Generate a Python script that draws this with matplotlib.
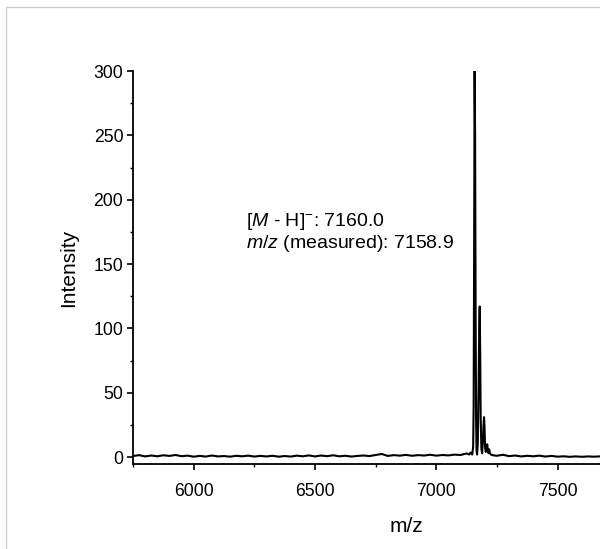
import matplotlib
matplotlib.use('Agg')
import matplotlib.pyplot as plt
from matplotlib.ticker import MultipleLocator, FixedLocator
from matplotlib.patches import Rectangle

plt.rcParams['font.family'] = ['Liberation Sans', 'DejaVu Sans']
plt.rcParams['mathtext.fontset'] = 'custom'
plt.rcParams['mathtext.rm'] = 'Liberation Sans'
plt.rcParams['mathtext.it'] = 'Liberation Sans:italic'

# spectrum trace (m/z, intensity)
mz_low = [5750, 5775, 5800, 5825, 5850, 5875, 5900, 5925, 5950, 5975,
          6000, 6025, 6050, 6075, 6100, 6125, 6150, 6175, 6200, 6225,
          6250, 6275, 6300, 6325, 6350, 6375, 6400, 6425, 6450, 6475,
          6500, 6525, 6550, 6575, 6600, 6625, 6650, 6675, 6700, 6725,
          6750, 6775, 6800, 6825, 6850, 6875, 6900, 6925, 6950, 6975,
          7000, 7025, 7050, 7075, 7100, 7125]
int_low = [0.8, 1.5, 0.5, 1.2, 0.6, 1.4, 0.9, 1.6, 0.7, 1.1,
           0.3, 0.9, 0.4, 1.2, 0.5, 0.8, 0.3, 1.0, 0.6, 1.1,
           0.4, 0.9, 0.5, 1.0, 0.3, 0.8, 0.4, 1.1, 0.6, 1.3,
           0.5, 1.2, 0.7, 1.4, 0.6, 1.0, 0.4, 0.9, 1.2, 0.8,
           1.6, 2.4, 0.9, 1.5, 1.1, 1.7, 1.0, 1.5, 1.2, 1.8,
           1.1, 1.6, 1.3, 1.9, 1.6, 2.8]

mz_peak = [7135, 7142, 7148, 7152, 7154, 7156, 7158, 7160, 7162, 7164,
           7166, 7168, 7171, 7174, 7177, 7179, 7181, 7183, 7186, 7189,
           7192, 7195, 7197, 7199, 7201, 7204, 7207, 7210, 7212, 7215,
           7218, 7221, 7225, 7232, 7240]
int_peak = [2.0, 3.5, 2.0, 8, 40, 160, 300, 250, 120, 30,
            5, 2, 10, 50, 100, 117, 80, 30, 6, 3,
            12, 26, 31, 22, 8, 4, 8, 10, 6, 3,
            6, 3, 2, 1.5, 1.2]

mz_high = [7250, 7275, 7300, 7325, 7350, 7375, 7400, 7425, 7450, 7475,
           7500, 7525, 7550, 7575, 7600, 7625, 7650, 7675, 7700, 7725,
           7750, 7775, 7800, 7825, 7850, 7875, 7900, 7925, 7950, 7975, 8000]
int_high = [1.0, 1.8, 0.7, 1.2, 0.5, 1.0, 0.6, 1.1, 0.4, 0.9,
            0.3, 0.6, 0.2, 0.5, 0.2, 0.5, 0.3, 0.5, 0.3, 0.4,
            0.2, 0.4, 0.2, 0.4, 0.2, 0.3, 0.2, 0.3, 0.2, 0.3, 0.2]

x_ticks = [6000, 6500, 7000, 7500]

mz = mz_low + mz_peak + mz_high
intensity = int_low + int_peak + int_high

fig = plt.figure(figsize=(6.0, 5.49), dpi=100)
# light grey frame of the original figure (cropped at right/bottom)
fig.patches.append(Rectangle((6 / 600, -0.1), 1.2, 1 - 7 / 549 + 0.1,
                             transform=fig.transFigure, fill=False,
                             edgecolor='#cccccc', linewidth=1.0))

ax = fig.add_axes([0.2217, 0.1548, 0.9098, 0.7158])
ax.plot(mz, intensity, color='black', linewidth=1.5)

ax.set_xlim(5750, 8000)
ax.set_ylim(-5.4, 300)
ax.spines['top'].set_visible(False)
ax.spines['right'].set_visible(False)
ax.spines['left'].set_linewidth(1.3)
ax.spines['bottom'].set_linewidth(1.3)

ax.xaxis.set_major_locator(FixedLocator(x_ticks))
ax.xaxis.set_minor_locator(MultipleLocator(250))
ax.yaxis.set_major_locator(MultipleLocator(50))
ax.yaxis.set_minor_locator(MultipleLocator(25))
ax.tick_params(which='major', direction='out', length=4, width=1.2, labelsize=12.7)
ax.tick_params(which='minor', direction='out', length=2.5, width=1.0)
ax.tick_params(axis='x', which='major', pad=10)
ax.tick_params(axis='y', which='major', pad=3)

ax.set_xlabel('m/z', fontsize=15, labelpad=12)
ax.set_ylabel('Intensity', fontsize=15, labelpad=11)

ax.text(6215, 183, r'[$\mathit{M}$ - H]$^{-}$: 7160.0', fontsize=14,
        ha='left', va='center')
ax.text(6215, 166, r'$\mathit{m/z}$ (measured): 7158.9', fontsize=14,
        ha='left', va='center')

plt.savefig('out.png', dpi=100)
